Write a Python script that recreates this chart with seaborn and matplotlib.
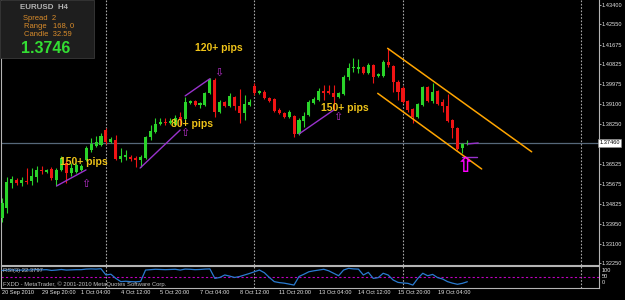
import matplotlib
matplotlib.use("Agg")
import matplotlib.pyplot as plt
from matplotlib.patches import Rectangle
import numpy as np
import pandas as pd
import seaborn as sns

# ---------------- data (EURUSD H4) ----------------
open_p = [1.3421, 1.3464, 1.3572, 1.3585, 1.3572, 1.3580, 1.3580, 1.3598, 1.3628, 1.3619,
          1.3632, 1.3585, 1.3628, 1.3658, 1.3615, 1.3619, 1.3628, 1.3671, 1.3714, 1.3731,
          1.3735, 1.3800, 1.3748, 1.3757, 1.3675, 1.3684, 1.3684, 1.3679, 1.3671, 1.3679,
          1.3770, 1.3792, 1.3826, 1.3834, 1.3830, 1.3822, 1.3856, 1.3847, 1.3916, 1.3925,
          1.3908, 1.3908, 1.3960, 1.4016, 1.3878, 1.3921, 1.3903, 1.3942, 1.3903, 1.3873,
          1.3908, 1.3990, 1.3960, 1.3964, 1.3938, 1.3934, 1.3886, 1.3873, 1.3856, 1.3860,
          1.3783, 1.3839, 1.3865, 1.3916, 1.3929, 1.3968, 1.3968, 1.3960, 1.3942, 1.3955,
          1.4029, 1.4067, 1.4063, 1.4072, 1.4046, 1.4080, 1.4033, 1.4033, 1.4093, 1.4076,
          1.4007, 1.3981, 1.3925, 1.3891, 1.3856, 1.3908, 1.3985, 1.3925, 1.3968, 1.3921,
          1.3903, 1.3843, 1.3809, 1.3722, 1.3740]
high_p = [1.3507, 1.3598, 1.3602, 1.3593, 1.3598, 1.3636, 1.3636, 1.3645, 1.3645, 1.3632,
          1.3641, 1.3636, 1.3688, 1.3671, 1.3658, 1.3658, 1.3654, 1.3731, 1.3766, 1.3774,
          1.3787, 1.3809, 1.3770, 1.3779, 1.3722, 1.3714, 1.3692, 1.3688, 1.3692, 1.3774,
          1.3822, 1.3852, 1.3852, 1.3852, 1.3852, 1.3865, 1.3878, 1.3942, 1.3929, 1.3929,
          1.3921, 1.3964, 1.4024, 1.4024, 1.3929, 1.3925, 1.3960, 1.3947, 1.3977, 1.3951,
          1.3934, 1.4003, 1.3972, 1.3972, 1.3942, 1.3938, 1.3895, 1.3878, 1.3886, 1.3865,
          1.3852, 1.3878, 1.3929, 1.3942, 1.3981, 1.3994, 1.3994, 1.3994, 1.3964, 1.4037,
          1.4089, 1.4110, 1.4106, 1.4076, 1.4089, 1.4085, 1.4046, 1.4102, 1.4153, 1.4080,
          1.4016, 1.3990, 1.3929, 1.3895, 1.3916, 1.3990, 1.3990, 1.4003, 1.3972, 1.3934,
          1.3955, 1.3847, 1.3813, 1.3744, 1.3757]
low_p = [1.3403, 1.3442, 1.3550, 1.3563, 1.3559, 1.3567, 1.3563, 1.3576, 1.3611, 1.3615,
         1.3585, 1.3559, 1.3623, 1.3572, 1.3602, 1.3615, 1.3623, 1.3666, 1.3705, 1.3727,
         1.3731, 1.3740, 1.3744, 1.3671, 1.3662, 1.3671, 1.3666, 1.3641, 1.3641, 1.3675,
         1.3757, 1.3787, 1.3822, 1.3822, 1.3826, 1.3817, 1.3822, 1.3843, 1.3912, 1.3903,
         1.3895, 1.3903, 1.3955, 1.3856, 1.3873, 1.3899, 1.3899, 1.3886, 1.3830, 1.3843,
         1.3903, 1.3951, 1.3955, 1.3934, 1.3921, 1.3878, 1.3869, 1.3852, 1.3852, 1.3770,
         1.3779, 1.3813, 1.3860, 1.3912, 1.3925, 1.3929, 1.3955, 1.3886, 1.3938, 1.3951,
         1.4016, 1.4050, 1.4046, 1.4042, 1.4042, 1.4003, 1.4029, 1.4029, 1.4072, 1.3964,
         1.3929, 1.3916, 1.3878, 1.3830, 1.3852, 1.3903, 1.3921, 1.3916, 1.3908, 1.3878,
         1.3834, 1.3766, 1.3714, 1.3701, 1.3735]
close_p = [1.3485, 1.3576, 1.3589, 1.3572, 1.3585, 1.3576, 1.3602, 1.3628, 1.3623, 1.3628,
           1.3593, 1.3628, 1.3679, 1.3615, 1.3636, 1.3649, 1.3645, 1.3722, 1.3740, 1.3748,
           1.3774, 1.3748, 1.3761, 1.3675, 1.3688, 1.3692, 1.3675, 1.3671, 1.3684, 1.3770,
           1.3796, 1.3826, 1.3834, 1.3830, 1.3839, 1.3852, 1.3843, 1.3921, 1.3925, 1.3908,
           1.3916, 1.3960, 1.4020, 1.3878, 1.3921, 1.3903, 1.3947, 1.3903, 1.3873, 1.3912,
           1.3921, 1.3960, 1.3968, 1.3938, 1.3925, 1.3882, 1.3873, 1.3856, 1.3878, 1.3783,
           1.3843, 1.3860, 1.3921, 1.3934, 1.3968, 1.3960, 1.3960, 1.3942, 1.3960, 1.4029,
           1.4067, 1.4072, 1.4072, 1.4046, 1.4080, 1.4029, 1.4042, 1.4093, 1.4080, 1.4007,
           1.3964, 1.3921, 1.3886, 1.3856, 1.3912, 1.3985, 1.3925, 1.3964, 1.3912, 1.3903,
           1.3839, 1.3809, 1.3718, 1.3740, 1.3746]
rsi_vals = [82, 84, 85, 83, 84, 84, 85, 86, 85, 86,
            82, 84, 87, 84, 85, 86, 86, 89, 90, 89,
            91, 58, 62, 40, 23, 25, 23, 22, 24, 84,
            86, 88, 87, 86, 87, 88, 84, 89, 88, 86,
            87, 89, 90, 40, 45, 58, 52, 45, 50, 58,
            66, 75, 84, 70, 45, 23, 18, 15, 10, 5,
            50, 62, 75, 80, 84, 88, 80, 67, 54, 84,
            93, 90, 89, 58, 72, 40, 44, 67, 58, 32,
            19, 16, 14, 5, 40, 67, 54, 61, 44, 37,
            23, 15, 9, 14, 22.3797]

price_ticks = [1.43400, 1.42550, 1.41675, 1.40825, 1.39975, 1.39100, 1.38250,
               1.36525, 1.35675, 1.34825, 1.33950, 1.33100, 1.32250]
time_tick_bars = [0, 8, 16, 24, 32, 40, 48, 56, 64, 72, 80, 88]
time_tick_labels = ["20 Sep 2010", "29 Sep 20:00", "1 Oct 04:00", "4 Oct 12:00",
                    "5 Oct 20:00", "7 Oct 04:00", "8 Oct 12:00", "11 Oct 20:00",
                    "13 Oct 04:00", "14 Oct 12:00", "15 Oct 20:00", "19 Oct 04:00"]
separator_bars = [21, 51, 81, 117]
bid_price = 1.37460
rsi_level = 50

pip_labels = ["150+ pips", "80+ pips", "120+ pips", "150+ pips"]
pip_label_bars = [16.6, 38.4, 43.8, 69.3]
pip_label_prices = [1.3662, 1.3826, 1.4153, 1.3895]

purple_x0 = [11.05, 27.9, 37.0, 60.0, 92.9, 94.1]
purple_y0 = [1.3559, 1.3636, 1.3947, 1.3783, 1.3684, 1.3740]
purple_x1 = [16.97, 36.0, 42.0, 67.0, 96.0, 96.2]
purple_y1 = [1.3628, 1.3800, 1.4021, 1.3886, 1.3684, 1.3744]

channel_x0 = [77.9, 75.9]
channel_y0 = [1.4152, 1.3958]
channel_x1 = [107.0, 96.9]
channel_y1 = [1.3706, 1.3632]

arrow_bars = [17.0, 37.0, 43.7, 67.8, 93.7]
arrow_prices = [1.3567, 1.3788, 1.4047, 1.3858, 1.3643]
arrow_glyphs = ["\u21e7", "\u21e7", "\u21e9", "\u21e7", "\u21e7"]

# ---------------- style ----------------
sns.set_style("dark")
plt.rcParams['font.family'] = ['Liberation Sans', 'DejaVu Sans']

W, H = 625, 300
def fx(px): return px / W
def fy(py): return 1 - py / H

BG = "black"
FG = "#c8c8c8"
GREEN = "#2ad42a"
RED = "#f01414"
TICK_FS = 4.1

fig = plt.figure(figsize=(6.25, 3.0), dpi=100, facecolor=BG)
ax = fig.add_axes([fx(1), fy(265), (599 - 1) / W, 265 / H])
ax2 = fig.add_axes([fx(1), fy(287.5), (599 - 1) / W, 21.5 / H])
for a in (ax, ax2):
    a.set_facecolor(BG)
    a.grid(False)
    for s in a.spines.values():
        s.set_color("#b4b4b4")
        s.set_linewidth(0.8)
ax.spines["top"].set_visible(False)

n = len(close_p)
df = pd.DataFrame({"bar": np.arange(n), "open": open_p, "high": high_p,
                   "low": low_p, "close": close_p, "rsi": rsi_vals})
up = df["close"] >= df["open"]
cols = np.where(up, GREEN, RED)

xl = (-0.2, 120.6)
ax.set_xlim(*xl)
ax2.set_xlim(*xl)
ax.set_ylim(1.32181, 1.43603)
ax2.set_ylim(-7.9, 105.3)

# period separators
for b in separator_bars:
    ax.axvline(b, color="#a8a8a8", lw=0.8, ls=(0, (1.5, 1.5)), zorder=1)
    ax2.axvline(b, color="#a8a8a8", lw=0.8, ls=(0, (1.5, 1.5)), zorder=1)

# bid line
ax.axhline(bid_price, color="#56687a", lw=0.9, zorder=1)

# candles
ax.vlines(df["bar"], df["low"], df["high"], colors=cols, lw=0.8, zorder=3)
body_h = np.maximum((df["close"] - df["open"]).abs(), 0.0002)
ax.bar(df["bar"], body_h, bottom=np.minimum(df["open"], df["close"]),
       width=0.62, color=cols, linewidth=0, zorder=4)

# purple trend segments
for x0, y0, x1, y1 in zip(purple_x0, purple_y0, purple_x1, purple_y1):
    ax.plot([x0, x1], [y0, y1], color="#9932cc", lw=1.0, zorder=5)

# orange channel
for x0, y0, x1, y1 in zip(channel_x0, channel_y0, channel_x1, channel_y1):
    ax.plot([x0, x1], [y0, y1], color="#ffa500", lw=1.1, zorder=5)

# pip labels
for t, b, p in zip(pip_labels, pip_label_bars, pip_label_prices):
    ax.text(b, p, t, color="#f0c419", fontsize=7.5, fontweight="bold",
            ha="center", va="center", zorder=6)

# arrows
for i, (b, p, g) in enumerate(zip(arrow_bars, arrow_prices, arrow_glyphs)):
    big = i == len(arrow_bars) - 1
    ax.text(b, p, g, color="#ff00ff" if big else "#b52fc8",
            fontsize=15 if big else 8, ha="center", va="center",
            family="DejaVu Sans", fontweight="bold" if big else "normal", zorder=6)

# price axis
ax.yaxis.tick_right()
ax.set_yticks(price_ticks)
ax.set_yticklabels([f"{v:.5f}" for v in price_ticks])
ax.tick_params(axis="y", colors=FG, labelcolor="#e6e6e6", labelsize=TICK_FS,
               length=1.2, width=0.6, pad=0.6)
ax.set_xticks([])
ax.set_xlabel("")
ax.set_ylabel("")

# bid price box
fig.text(fx(599.5), fy(143), f"{bid_price:.5f}", color="black", fontsize=TICK_FS,
         ha="left", va="center",
         bbox=dict(facecolor="white", edgecolor="#909090", pad=0.8, linewidth=0.4))

# RSI pane
sns.lineplot(data=df, x="bar", y="rsi", ax=ax2, color="#2a7bd0", lw=0.9, zorder=4)
ax2.axhline(rsi_level, color="#c000c0", lw=0.8, ls=(0, (2, 2)), zorder=2)
ax2.set_xlabel("")
ax2.set_ylabel("")
ax2.set_yticks([])
ax2.set_xticks(time_tick_bars)
ax2.set_xticklabels(time_tick_labels)
for lab in ax2.get_xticklabels():
    lab.set_ha("left")
ax2.tick_params(axis="x", colors=FG, labelcolor="#e6e6e6", labelsize=TICK_FS,
                length=1.5, width=0.6, pad=0.6)
ax2.text(0.004, 0.78, f"RSI(3) {rsi_vals[-1]:.4f}", transform=ax2.transAxes,
         color="#c0c0c0", fontsize=4.2, ha="left", va="center", zorder=6)
ax2.text(0.004, 0.15, "FXDD - MetaTrader, \u00a9 2001-2010 MetaQuotes Software Corp.",
         transform=ax2.transAxes, color="#c0c0c0", fontsize=4.2, ha="left",
         va="center", zorder=6)
for lv, py in zip(["100", "50", "0"], [270.7, 276.7, 282.7]):
    fig.text(fx(602), fy(py), lv, color="#e6e6e6", fontsize=TICK_FS, ha="left", va="center")

# info box (top left)
fig.add_artist(Rectangle((0, fy(58)), fx(94), 58 / H, transform=fig.transFigure,
                         facecolor="#1e1e1e", edgecolor="#3a3a3a", lw=0.6, zorder=10))
fig.text(fx(20), fy(7.5), "EURUSD  H4", color="#b4b4b4", fontsize=5.7,
         fontweight="bold", ha="left", va="center", zorder=11)
info_lines = ["Spread  2", "Range   168, 0", "Candle  32.59"]
for t, xx, yy in zip(info_lines, [23, 24, 24], [18.3, 26.7, 34.5]):
    fig.text(fx(xx), fy(yy), t, color="#d98c2b", fontsize=5.5, ha="left",
             va="center", zorder=11)
fig.text(fx(21), fy(48.5), "1.3746", color="#33dd33", fontsize=11.5,
         fontweight="bold", ha="left", va="center", zorder=11)

fig.savefig("out.png", dpi=100, facecolor=BG)
